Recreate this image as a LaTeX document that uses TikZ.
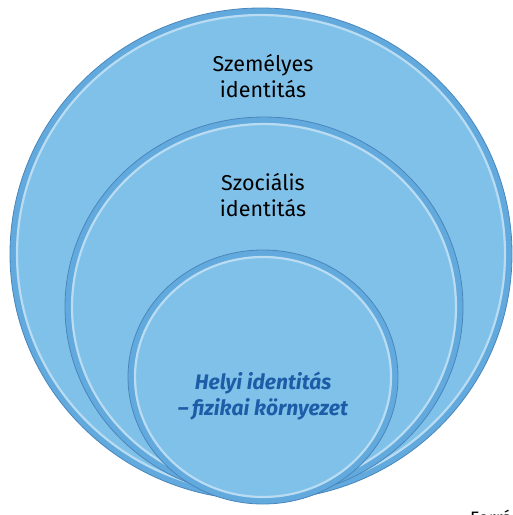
\documentclass[tikz,border=0pt]{standalone}
\usepackage{fontspec}
\setmainfont{Fira Sans}
\definecolor{discfill}{HTML}{80C1E9}
\definecolor{discband}{HTML}{62AADD}
\definecolor{discedge}{HTML}{4A86BC}
\definecolor{placeblue}{HTML}{1D5CA6}
\begin{document}
\begin{tikzpicture}[x=1pt, y=-1pt,
    band/.style={fill=discband, draw=discedge, line width=.8pt},
    core/.style={fill=discfill},
    rim/.style={draw=white, opacity=.45, line width=2.2pt},
    label/.style={align=center, font=\fontsize{21.5}{26}\selectfont}]
      \useasboundingbox (0,0) rectangle (513,515);
      \foreach \cx/\cy/\rx/\ry in {261/254/251/246, 264/307/199/190, 263/377/135/127} {
        \filldraw[band] (\cx,\cy) ellipse ({\rx} and {\ry});
        \fill[core] (\cx,\cy) ellipse ({\rx-6} and {\ry-6});
        \draw[rim] (\cx,\cy) ellipse ({\rx-7} and {\ry-7});
      }
      \node[label] (personal) at (263,76) {Személyes\\identitás};
      \node[label] (social) at (263,195) {Szociális\\identitás};
      \node[label, text=placeblue, font=\fontsize{21}{26}\selectfont\bfseries\itshape] (local) at (263,396) {Helyi identitás\\–\,fizikai környezet};
      \node[anchor=north west, inner sep=0pt, font=\fontsize{18}{20}\selectfont] (source) at (470,510) {Forrás};
\end{tikzpicture}
\end{document}
